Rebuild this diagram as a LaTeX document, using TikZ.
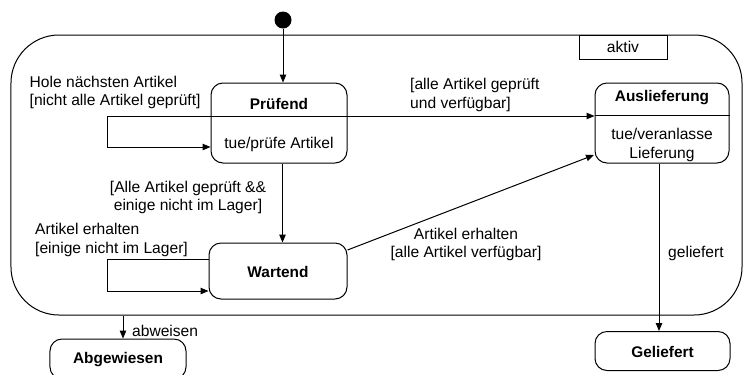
\documentclass[tikz,border=0pt]{standalone}
\usepackage{fontspec}
\setmainfont{Liberation Sans}
\usetikzlibrary{arrows.meta}
\begin{document}
\begin{tikzpicture}[x=1bp,y=-1bp,
  every node/.style={font=\fontsize{15.6bp}{19bp}\selectfont, inner sep=0pt},
  ln/.style={line width=1bp, draw=black},
  arr/.style={ln, -{Triangle[length=8bp,width=6.5bp]}},
  statebox/.style={ln, rounded corners=12bp},
  sname/.style={font=\fontsize{15.4bp}{19bp}\selectfont\bfseries},
  lbl/.style={align=left, anchor=north west},
  clbl/.style={align=center}]
\useasboundingbox (0,0) rectangle (744,374);
% outer composite state
\node[ln, rounded corners=48bp, minimum width=731bp, minimum height=280bp] (aktivreg) at (376.5,175) {};
\node[ln, minimum width=88bp, minimum height=24bp] (aktivlbl) at (623,47) {aktiv};
% initial
\fill (283,20) circle (8.5bp);
\node[circle, minimum size=17bp] (init) at (283,20) {};
% states
\node[statebox, minimum width=136bp, minimum height=80bp] (pruef) at (279,123) {};
\node[sname] (pruefname) at (279,104) {Prüfend};
\node (pruefdo) at (279,144.5) {tue/prüfe Artikel};
\coordinate (dvp) at (0,116);
\draw[ln] (pruef.west |- dvp) -- (pruef.east |- dvp);

\node[statebox, minimum width=134bp, minimum height=80bp] (ausl) at (662,123) {};
\node[sname] (auslname) at (662,97.5) {Auslieferung};
\node[clbl] (ausldo) at (662,145) {tue/veranlasse\\Lieferung};
\coordinate (dva) at (0,115.5);
\draw[ln] (ausl.west |- dva) -- (ausl.east |- dva);

\node[statebox, minimum width=138bp, minimum height=56bp] (wart) at (278,271) {};
\node[sname] (wartname) at (278,272) {Wartend};

\node[statebox, minimum width=135bp, minimum height=39bp] (gel) at (662.5,351) {};
\node[sname] (gelname) at (662.5,352) {Geliefert};

\node[statebox, minimum width=136bp, minimum height=40bp] (abg) at (118,359) {};
\node[sname] (abgname) at (118,360) {Abgewiesen};

% connectors
\draw[arr] (init.south) -- (init.south |- pruef.north);

\coordinate (lp) at (107,0);
\coordinate (lpb) at (0,147);
\draw[arr] (pruef.west |- dvp) -| (lp |- lpb) -- (pruef.west |- lpb);

\draw[arr] (pruef.east |- dvp) -- (ausl.west |- dvp);

\coordinate (xpw) at (282.5,0);
\draw[arr] (pruef.south -| xpw) -- (wart.north -| xpw);

\coordinate (lwt) at (0,259);
\coordinate (lwb) at (0,291);
\draw[arr] (wart.west |- lwt) -| (lp |- lwb) -- (wart.west |- lwb);

\coordinate (wy) at (0,250);
\coordinate (ay) at (0,155);
\draw[arr] (wart.east |- wy) -- ([xshift=-0.5bp]ausl.west |- ay);

\coordinate (xag) at (659,0);
\draw[arr] (ausl.south -| xag) -- (gel.north -| xag);

\coordinate (xab) at (123,0);
\draw[arr] (aktivreg.south -| xab) -- (abg.north -| xab);

% labels
\node[lbl] (l1) at (29.5,76) {Hole nächsten Artikel\\[-1.5bp][nicht alle Artikel geprüft]};
\node[lbl] (l2) at (410,78) {[alle Artikel geprüft\\und verfügbar]};
\node[clbl] (l3) at (188,197) {[Alle Artikel geprüft \&\&\\[-1bp]einige nicht im Lager]};
\node[lbl] (l4) at (35,222.5) {Artikel erhalten\\[0bp][einige nicht im Lager]};
\node[clbl] (l5) at (466,244) {Artikel erhalten\\[-1bp][alle Artikel verfügbar]};
\node[anchor=west] (l6) at (668,253) {geliefert};
\node[anchor=west] (l7) at (132,331) {abweisen};
\end{tikzpicture}
\end{document}
